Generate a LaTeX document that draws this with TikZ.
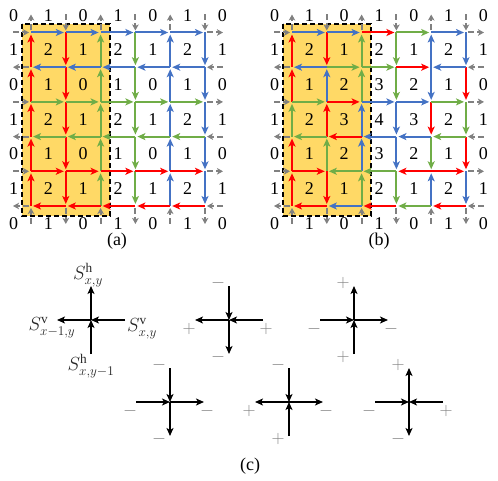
\RequirePackage{fix-cm}
\documentclass[tikz,border=0pt]{standalone}
\usepackage{fontspec}
\setmainfont{Liberation Serif}
\usetikzlibrary{arrows.meta}
\definecolor{cred}{RGB}{255,0,0}
\definecolor{cblue}{RGB}{68,114,196}
\definecolor{cgreen}{RGB}{112,173,71}
\definecolor{cshade}{RGB}{255,217,102}
\definecolor{cgray}{RGB}{128,128,128}
\begin{document}
\begin{tikzpicture}[x=1pt,y=-1pt,
  flow/.style={line width=2pt,-{Stealth[length=8pt,width=7pt,inset=2pt]},shorten >=2pt},
  stub/.style={line width=2pt,cgray,dash pattern=on 6pt off 3pt,-{Stealth[length=6pt,width=6.5pt,inset=1.5pt]}},
  instub/.style={stub,shorten >=2pt},
  outstub/.style={stub,shorten <=2pt},
  arm/.style={line width=2pt,black,-{Stealth[length=8pt,width=7pt,inset=2pt]}},
  num/.style={font=\fontsize{18}{20}\selectfont,inner sep=0pt},
  sgn/.style={font=\fontsize{18}{20}\selectfont,text=cgray,inner sep=0pt},
  slab/.style={font=\fontsize{19}{22}\selectfont,text=black!85,inner sep=0pt},
  shadebox/.style={fill=cshade,draw=black,line width=1.3pt,dash pattern=on 5pt off 3pt}]

\useasboundingbox (0,0) rectangle (498,481);

% grid coordinates
\foreach \p/\ox in {a/0,b/261}{
  \foreach \i in {0,...,5}{
    \foreach \j in {0,...,5}{
      \coordinate (\p-\i-\j) at (\ox+31+34.8*\i, 32.5+34.7*\j);
    }
    \coordinate (\p-T-\i) at (\ox+31+34.8*\i, 14.5);
    \coordinate (\p-B-\i) at (\ox+31+34.8*\i, 224);
    \coordinate (\p-L-\i) at (\ox+13, 32.5+34.7*\i);
    \coordinate (\p-R-\i) at (\ox+223, 32.5+34.7*\i);
  }
}

% shaded boxes
\draw[shadebox] (22,24) rectangle (110,216);
\draw[shadebox] (283,24) rectangle (371,216);

% grey boundary stubs
\foreach \p in {a,b}{
  \foreach \k in {0,2,4}{
    \draw[outstub] (\p-\k-0) -- (\p-T-\k);
    \draw[instub] (\p-B-\k) -- (\p-\k-5);
    \draw[instub] (\p-L-\k) -- (\p-0-\k);
    \draw[outstub] (\p-5-\k) -- (\p-R-\k);
  }
  \foreach \k in {1,3,5}{
    \draw[instub] (\p-T-\k) -- (\p-\k-0);
    \draw[outstub] (\p-\k-5) -- (\p-B-\k);
    \draw[outstub] (\p-0-\k) -- (\p-L-\k);
    \draw[instub] (\p-R-\k) -- (\p-5-\k);
  }
}

% panel (a) edges
\foreach \i/\cl/\s in {0/cred/1,1/cred/0,2/cgreen/1,3/cgreen/0,4/cblue/1,5/cblue/0}{
  \foreach \j in {1,...,5}{
    \pgfmathtruncatemacro\fa{\j-1+\s}
    \pgfmathtruncatemacro\fb{\j-\s}
    \draw[flow,color=\cl] (a-\i-\fa) -- (a-\i-\fb);
  }
}
\foreach \j/\cl/\s in {0/cblue/0,1/cblue/1,2/cgreen/0,3/cgreen/1,4/cred/0,5/cred/1}{
  \foreach \i in {1,...,5}{
    \pgfmathtruncatemacro\fa{\i-1+\s}
    \pgfmathtruncatemacro\fb{\i-\s}
    \draw[flow,color=\cl] (a-\fa-\j) -- (a-\fb-\j);
  }
}

% panel (b) edges
\foreach \i/\fa/\fb/\cl in {
  0/1/0/cred,1/0/1/cred,2/1/0/cgreen,3/0/1/cgreen,4/1/0/cblue,5/0/1/cblue,
  0/2/1/cred,1/2/1/cblue,2/2/1/cgreen,3/1/2/cgreen,4/1/2/cblue,5/1/2/cred,
  0/3/2/cgreen,1/3/2/cred,2/3/2/cblue,3/2/3/cblue,4/2/3/cred,5/2/3/cgreen,
  0/4/3/cred,1/4/3/cgreen,2/4/3/cblue,3/3/4/cblue,4/3/4/cgreen,5/3/4/cred,
  0/5/4/cred,1/4/5/cred,2/5/4/cgreen,3/4/5/cgreen,4/5/4/cblue,5/4/5/cblue}{
  \draw[flow,color=\cl] (b-\i-\fa) -- (b-\i-\fb);
}
\foreach \fa/\fb/\j/\cl in {
  0/1/0/cblue,1/2/0/cblue,2/3/0/cred,3/4/0/cgreen,4/5/0/cblue,
  1/0/1/cblue,1/2/1/cgreen,2/3/1/cgreen,3/4/1/cred,5/4/1/cblue,
  0/1/2/cgreen,1/2/2/cred,2/3/2/cblue,3/4/2/cblue,4/5/2/cgreen,
  1/0/3/cgreen,2/1/3/cred,3/2/3/cblue,4/3/3/cblue,5/4/3/cgreen,
  0/1/4/cred,2/1/4/cgreen,3/2/4/cgreen,4/3/4/cred,4/5/4/cred,
  1/0/5/cred,2/1/5/cblue,3/2/5/cred,4/3/5/cgreen,5/4/5/cred}{
  \draw[flow,color=\cl] (b-\fa-\j) -- (b-\fb-\j);
}

% numbers
\foreach \row [count=\r from 0] in {{0,1,0,1,0,1,0},{1,2,1,2,1,2,1},{0,1,0,1,0,1,0},{1,2,1,2,1,2,1},{0,1,0,1,0,1,0},{1,2,1,2,1,2,1},{0,1,0,1,0,1,0}}{
  \foreach \v [count=\cc from 0] in \row {
    \node[num] (a-n-\cc-\r) at (13.6+34.8*\cc, 15.15+34.7*\r) {\v};
  }
}
\foreach \row [count=\r from 0] in {{0,1,0,1,0,1,0},{1,2,1,2,1,2,1},{0,1,2,3,2,1,0},{1,2,3,4,3,2,1},{0,1,2,3,2,1,0},{1,2,1,2,1,2,1},{0,1,0,1,0,1,0}}{
  \foreach \v [count=\cc from 0] in \row {
    \node[num] (b-n-\cc-\r) at (274.6+34.8*\cc, 15.15+34.7*\r) {\v};
  }
}

\node[num] (capa) at (117,241) {(a)};
\node[num] (capb) at (379,241) {(b)};
\node[num] (capc) at (250,466) {(c)};

% crosses
\foreach \n/\x/\y in {1/91/320,2/229/320,3/354/320,4/170/402,5/289/402,6/409/402}{
  \coordinate (k\n) at (\x,\y);
  \coordinate (k\n-n) at (\x,\y-34);
  \coordinate (k\n-s) at (\x,\y+34);
  \coordinate (k\n-w) at (\x-34,\y);
  \coordinate (k\n-e) at (\x+34,\y);
}
% cross 1
\draw[arm] (k1) -- (k1-n);
\draw[arm] (k1-s) -- (k1);
\draw[arm] (k1) -- (k1-w);
\draw[arm] (k1-e) -- (k1);
% cross 2
\draw[arm] (k2-n) -- (k2);
\draw[arm] (k2) -- (k2-s);
\draw[arm] (k2) -- (k2-w);
\draw[arm] (k2-e) -- (k2);
% cross 3
\draw[arm] (k3) -- (k3-n);
\draw[arm] (k3-s) -- (k3);
\draw[arm] (k3-w) -- (k3);
\draw[arm] (k3) -- (k3-e);
% cross 4
\draw[arm] (k4-n) -- (k4);
\draw[arm] (k4) -- (k4-s);
\draw[arm] (k4-w) -- (k4);
\draw[arm] (k4) -- (k4-e);
% cross 5
\draw[arm] (k5-n) -- (k5);
\draw[arm] (k5-s) -- (k5);
\draw[arm] (k5) -- (k5-w);
\draw[arm] (k5) -- (k5-e);
% cross 6
\draw[arm] (k6) -- (k6-n);
\draw[arm] (k6) -- (k6-s);
\draw[arm] (k6-w) -- (k6);
\draw[arm] (k6-e) -- (k6);

% legend labels
\node[slab] (lt) at (88,275) {$S^{\mathrm{h}}_{x,y}$};
\node[slab] (ll) at (52,328) {$S^{\mathrm{v}}_{x-1,y}$};
\node[slab] (lr) at (142,329) {$S^{\mathrm{v}}_{x,y}$};
\node[slab] (lb) at (91,366) {$S^{\mathrm{h}}_{x,y-1}$};

% sign labels: top, left, right, bottom
\foreach \n/\x/\y/\st/\sl/\sr/\sb in {
  2/229/320/-/+/+/-,
  3/354/320/+/-/-/+,
  4/170/402/-/-/-/-,
  5/289/402/-/+/-/+,
  6/409/402/+/-/+/-}{
  \node[sgn] (k\n-lt) at (\x-11,\y-37) {$\st$};
  \node[sgn] (k\n-ll) at (\x-40,\y+9) {$\sl$};
  \node[sgn] (k\n-lr) at (\x+37,\y+9) {$\sr$};
  \node[sgn] (k\n-lb) at (\x-11,\y+37) {$\sb$};
}
\end{tikzpicture}
\end{document}
